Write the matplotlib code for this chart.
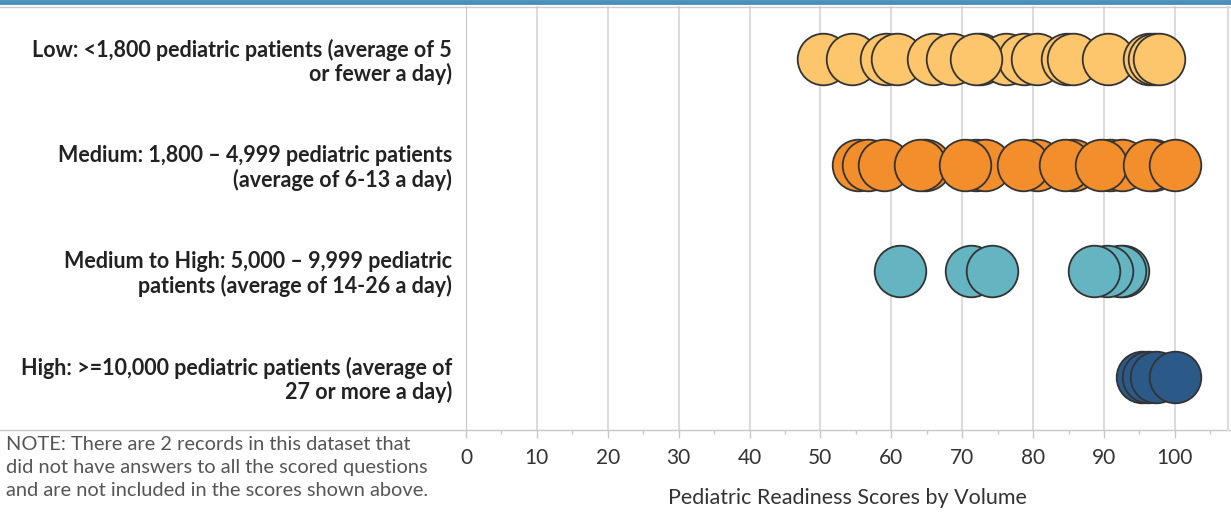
import matplotlib.pyplot as plt
from matplotlib.lines import Line2D

# volume groups (top to bottom) and their label text
groups = ['Low: <1,800 pediatric patients (average of 5\nor fewer a day)',
          'Medium: 1,800 \u2013 4,999 pediatric patients\n(average of 6-13 a day)',
          'Medium to High: 5,000 \u2013 9,999 pediatric\npatients (average of 14-26 a day)',
          'High: >=10,000 pediatric patients (average of\n27 or more a day)']

# readiness scores, one list per group
low_scores = [50.4, 54.4, 59.2, 60.8, 65.9, 68.5, 72.5, 76.2, 78.7, 80.5,
              84.8, 85.6, 90.6, 96.4, 97.0, 97.7, 72.0]
medium_scores = [55.3, 56.7, 58.9, 64.7, 64.0, 72.0, 73.2, 70.4, 80.5, 78.6,
                 85.6, 84.5, 90.8, 92.5, 89.6, 96.9, 96.4, 100.0]
medhigh_scores = [61.2, 71.2, 74.2, 92.7, 92.2, 90.4, 88.6]
high_scores = [95.3, 96.2, 97.4, 100.0]

scores = [low_scores, medium_scores, medhigh_scores, high_scores]
colors = ['#FDC56C', '#F28E2B', '#64B4C1', '#2C5A88']

ticks = list(range(0, 101, 10))

plt.rcParams['font.family'] = ['Lato', 'DejaVu Sans']

fig = plt.figure(figsize=(12.31, 5.12), dpi=100)
ax = fig.add_axes([466 / 1231, 82 / 512, (1228 - 466) / 1231, (506 - 82) / 512])

for i, vals in enumerate(scores):
    ax.scatter(vals, [i] * len(vals), s=1380, color=colors[i],
               edgecolor='#333333', linewidth=1.3, alpha=1, zorder=3)

ax.set_xlim(0, 107.5)
ax.set_ylim(3.5, -0.5)

ax.set_xticks(ticks)
ax.set_xticks(range(5, 106, 10), minor=True)
ax.tick_params(axis='x', which='major', length=6, width=1, color='#c8c8c8',
               labelsize=15, labelcolor='#333333', pad=7)
ax.tick_params(axis='x', which='minor', length=3, width=1, color='#c8c8c8')
ax.grid(axis='x', color='#dcdcdc', linewidth=1.5, zorder=0)

ax.set_yticks(range(len(groups)))
ax.set_yticklabels(groups, fontsize=15.5, fontweight='bold', color='#222222',
                   linespacing=1.12)
ax.tick_params(axis='y', length=0, pad=10)

ax.set_xlabel('Pediatric Readiness Scores by Volume', fontsize=15.5,
              color='#333333', labelpad=14)

for side in ['top', 'right']:
    ax.spines[side].set_visible(False)
ax.spines['left'].set_color('#c8c8c8')
ax.spines['bottom'].set_visible(False)

# lines that frame the panes
fig.add_artist(Line2D([0, 1], [1 - 2 / 512, 1 - 2 / 512], color='#4A8FBC', linewidth=3.5))
fig.add_artist(Line2D([0, 1], [1 - 6.5 / 512, 1 - 6.5 / 512], color='#cccccc', linewidth=1))
fig.add_artist(Line2D([0, 1], [82 / 512, 82 / 512], color='#c8c8c8', linewidth=1))
fig.add_artist(Line2D([1228 / 1231, 1228 / 1231], [82 / 512, 1 - 6.5 / 512], color='#dcdcdc', linewidth=1.5))

fig.text(6 / 1231, 1 - 436 / 512,
         'NOTE: There are 2 records in this dataset that\n'
         'did not have answers to all the scored questions\n'
         'and are not included in the scores shown above.',
         fontsize=14.4, color='#555555', va='top', ha='left', linespacing=1.42)

fig.savefig('out.png', dpi=100)
